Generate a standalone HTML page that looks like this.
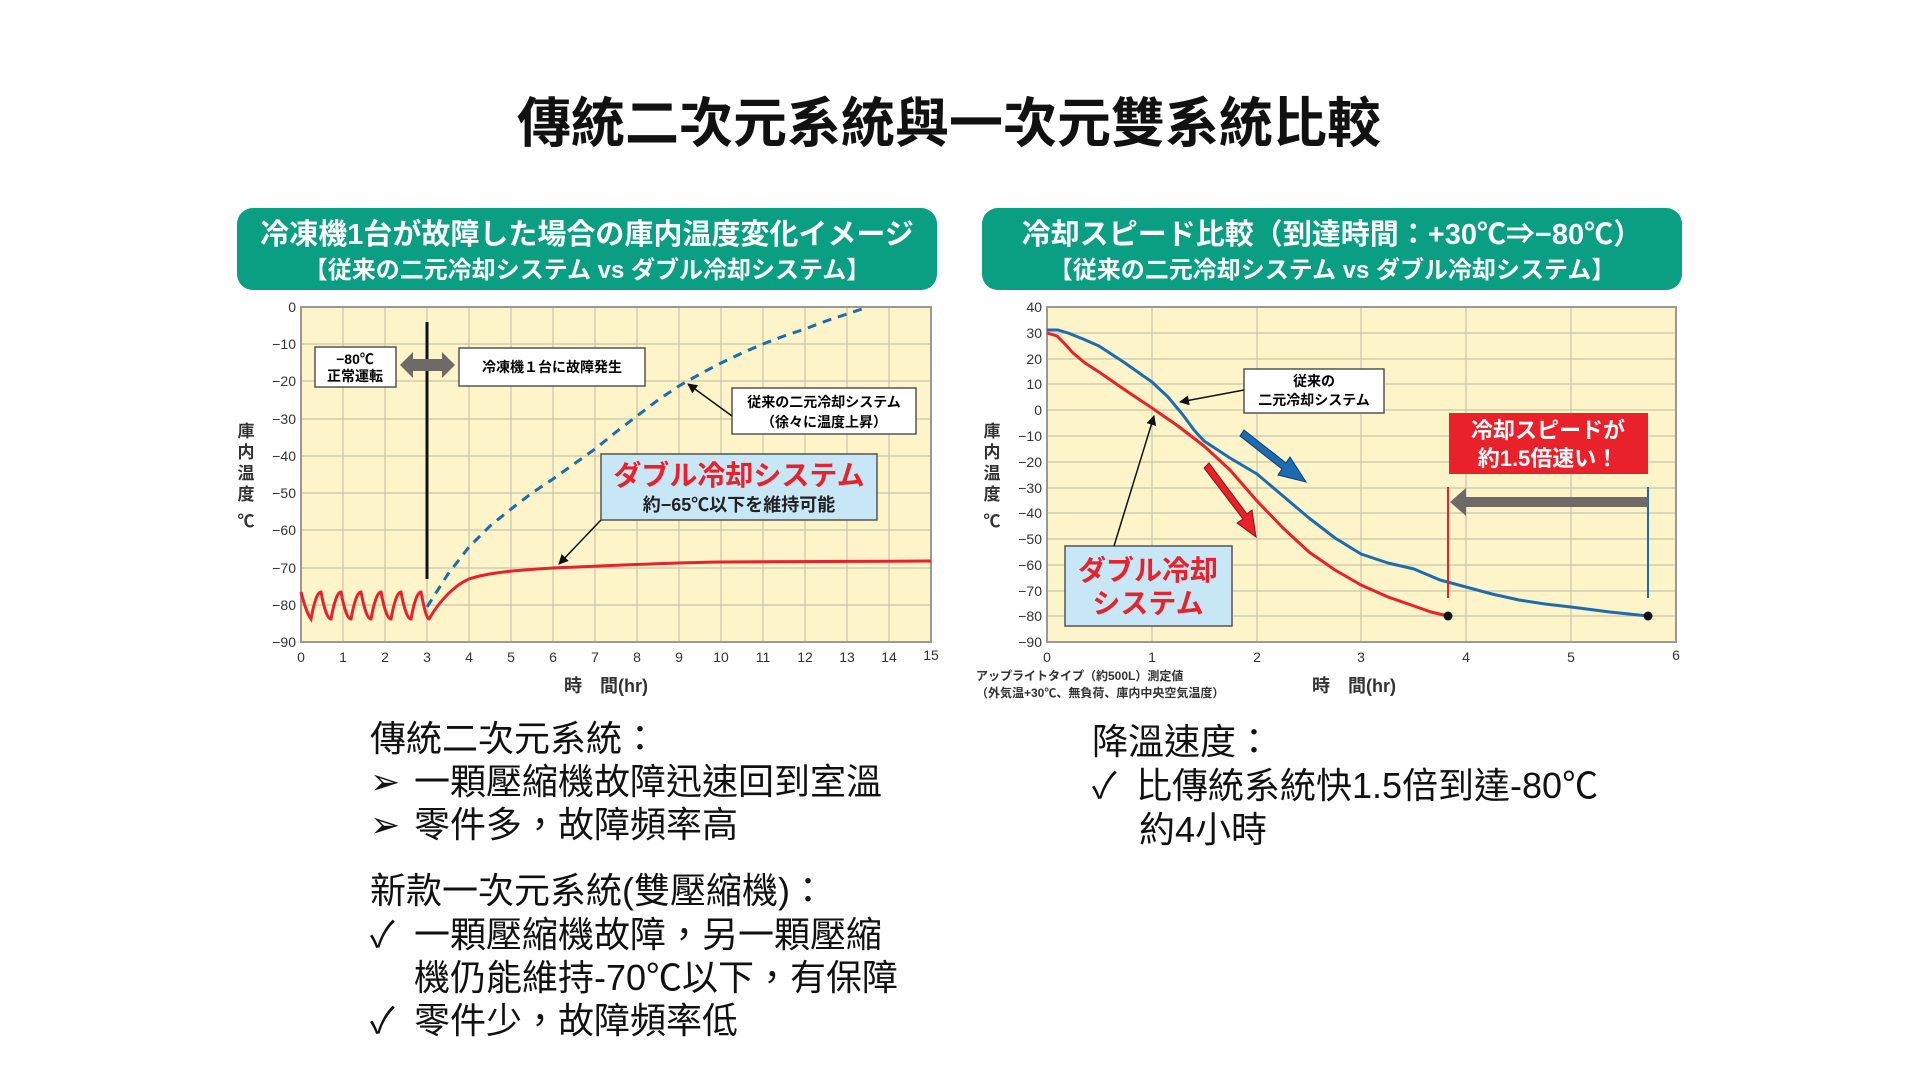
<!DOCTYPE html>
<html><head><meta charset="utf-8"><style>
html,body{margin:0;padding:0;background:#fff;width:1920px;height:1080px;overflow:hidden}
svg{display:block}
text{font-family:"Liberation Sans","Noto Sans CJK TC","Noto Sans CJK JP",sans-serif}
.b{font-family:"Liberation Sans","Noto Sans CJK JP",sans-serif;font-weight:bold}
.t{font-size:14px;fill:#333}
</style></head><body>
<svg width="1920" height="1080" viewBox="0 0 1920 1080" xmlns="http://www.w3.org/2000/svg">
<defs>
<marker id="ah" markerWidth="10" markerHeight="10" refX="9" refY="5" orient="auto" markerUnits="userSpaceOnUse"><path d="M0,0 L10,5 L0,10 Z" fill="#111"/></marker>
</defs>
<text x="949" y="142" text-anchor="middle" font-size="54" font-weight="bold" fill="#111" style="font-family:'Liberation Sans','Noto Sans CJK TC',sans-serif">傳統二次元系統與一次元雙系統比較</text>

<rect x="237" y="208" width="700" height="82" rx="16" fill="#0a9e82"/>
<text x="587" y="244" text-anchor="middle" font-size="29" fill="#fff" class="b">冷凍機1台が故障した場合の庫内温度変化イメージ</text>
<text x="587" y="278" text-anchor="middle" font-size="24" fill="#fff" class="b">【従来の二元冷却システム vs ダブル冷却システム】</text>
<rect x="982" y="208" width="700" height="82" rx="16" fill="#0a9e82"/>
<text x="1332" y="244" text-anchor="middle" font-size="29" fill="#fff" class="b">冷却スピード比較（到達時間：+30℃⇒−80℃）</text>
<text x="1332" y="278" text-anchor="middle" font-size="24" fill="#fff" class="b">【従来の二元冷却システム vs ダブル冷却システム】</text>

<!-- LEFT PLOT -->
<rect x="301" y="307" width="630" height="335" fill="#fdf5c9"/>
<g stroke="#c9c6a8" stroke-width="1.2">
<line x1="343" y1="307" x2="343" y2="642"/><line x1="385" y1="307" x2="385" y2="642"/><line x1="427" y1="307" x2="427" y2="642"/><line x1="469" y1="307" x2="469" y2="642"/><line x1="511" y1="307" x2="511" y2="642"/><line x1="553" y1="307" x2="553" y2="642"/><line x1="595" y1="307" x2="595" y2="642"/><line x1="637" y1="307" x2="637" y2="642"/><line x1="679" y1="307" x2="679" y2="642"/><line x1="721" y1="307" x2="721" y2="642"/><line x1="763" y1="307" x2="763" y2="642"/><line x1="805" y1="307" x2="805" y2="642"/><line x1="847" y1="307" x2="847" y2="642"/><line x1="889" y1="307" x2="889" y2="642"/>
<line x1="301" y1="344" x2="931" y2="344"/><line x1="301" y1="381" x2="931" y2="381"/><line x1="301" y1="419" x2="931" y2="419"/><line x1="301" y1="456" x2="931" y2="456"/><line x1="301" y1="493" x2="931" y2="493"/><line x1="301" y1="530" x2="931" y2="530"/><line x1="301" y1="568" x2="931" y2="568"/><line x1="301" y1="605" x2="931" y2="605"/>
</g>
<rect x="301" y="307" width="630" height="335" fill="none" stroke="#999" stroke-width="2"/>
<g class="t" text-anchor="end">
<text x="296" y="312">0</text><text x="296" y="349">−10</text><text x="296" y="386">−20</text><text x="296" y="424">−30</text><text x="296" y="461">−40</text><text x="296" y="498">−50</text><text x="296" y="535">−60</text><text x="296" y="573">−70</text><text x="296" y="610">−80</text><text x="296" y="647">−90</text>
</g>
<g class="t" text-anchor="middle">
<text x="301" y="662">0</text><text x="343" y="662">1</text><text x="385" y="662">2</text><text x="427" y="662">3</text><text x="469" y="662">4</text><text x="511" y="662">5</text><text x="553" y="662">6</text><text x="595" y="662">7</text><text x="637" y="662">8</text><text x="679" y="662">9</text><text x="721" y="662">10</text><text x="763" y="662">11</text><text x="805" y="662">12</text><text x="847" y="662">13</text><text x="931" y="660">15</text><text x="889" y="662">14</text>
</g>
<text x="606" y="692" text-anchor="middle" font-size="18" fill="#333" class="b">時　間(hr)</text>
<g font-size="17" fill="#333" class="b" text-anchor="middle">
<text x="246" y="437">庫</text><text x="246" y="458">内</text><text x="246" y="479">温</text><text x="246" y="500">度</text><text x="246" y="527">℃</text>
</g>
<path d="M301,592 Q306,612 311,619 Q316,592 321,592 Q326,619 331,619 Q336,592 341,592 Q346,619 351,619 Q356,592 361,592 Q366,619 371,619 Q376,592 381,592 Q386,619 391,619 Q396,592 401,592 Q406,619 411,619 Q416,592 421,592 Q426,619 429,619 C440,600 455,585 469,579 C490,572 520,570 553,568 C600,566 660,563 720,562 C800,561 880,561 931,561" fill="none" stroke="#e8212b" stroke-width="3"/>
<polyline points="427,607 448,574 469,547 490,526 511,509 532,493 553,479 574,464 595,449 616,432 637,416 658,400 679,386 700,374 721,363 742,353 763,344 784,336 805,329 826,321 847,314 868,307" fill="none" stroke="#1d6bb0" stroke-width="3" stroke-dasharray="9,7" stroke-linejoin="round"/>
<line x1="427" y1="322" x2="427" y2="579" stroke="#111" stroke-width="3"/>
<rect x="315" y="347" width="81" height="40" fill="#fff" stroke="#555" stroke-width="1.5"/>
<text x="355" y="364" text-anchor="middle" font-size="14" class="b">−80℃</text>
<text x="355" y="381" text-anchor="middle" font-size="14" class="b">正常運転</text>
<path d="M400,365 L413,352 L413,359 L442,359 L442,352 L455,365 L442,378 L442,371 L413,371 L413,378 Z" fill="#6f6a66"/>
<rect x="459" y="348" width="186" height="38" fill="#fff" stroke="#555" stroke-width="1.5"/>
<text x="552" y="372" text-anchor="middle" font-size="14" class="b">冷凍機１台に故障発生</text>
<rect x="732" y="388" width="184" height="46" fill="#fff" stroke="#555" stroke-width="1.5"/>
<text x="824" y="407" text-anchor="middle" font-size="14" class="b">従来の二元冷却システム</text>
<text x="824" y="427" text-anchor="middle" font-size="14" class="b">（徐々に温度上昇）</text>
<line x1="732" y1="416" x2="688" y2="384" stroke="#111" stroke-width="1.5" marker-end="url(#ah)"/>
<rect x="601" y="454" width="276" height="66" fill="#c7e6f6" stroke="#555" stroke-width="1.5"/>
<text x="739" y="485" text-anchor="middle" font-size="28" fill="#e8212b" class="b">ダブル冷却システム</text>
<text x="739" y="511" text-anchor="middle" font-size="18" fill="#222" class="b">約−65℃以下を維持可能</text>
<line x1="601" y1="520" x2="559" y2="564" stroke="#111" stroke-width="1.5" marker-end="url(#ah)"/>

<!-- RIGHT PLOT -->
<rect x="1047" y="307" width="629" height="335" fill="#fdf5c9"/>
<g stroke="#c9c6a8" stroke-width="1.2">
<line x1="1152" y1="307" x2="1152" y2="642"/><line x1="1257" y1="307" x2="1257" y2="642"/><line x1="1361" y1="307" x2="1361" y2="642"/><line x1="1466" y1="307" x2="1466" y2="642"/><line x1="1571" y1="307" x2="1571" y2="642"/>
<line x1="1047" y1="333" x2="1676" y2="333"/><line x1="1047" y1="359" x2="1676" y2="359"/><line x1="1047" y1="384" x2="1676" y2="384"/><line x1="1047" y1="410" x2="1676" y2="410"/><line x1="1047" y1="436" x2="1676" y2="436"/><line x1="1047" y1="462" x2="1676" y2="462"/><line x1="1047" y1="488" x2="1676" y2="488"/><line x1="1047" y1="513" x2="1676" y2="513"/><line x1="1047" y1="539" x2="1676" y2="539"/><line x1="1047" y1="565" x2="1676" y2="565"/><line x1="1047" y1="591" x2="1676" y2="591"/><line x1="1047" y1="616" x2="1676" y2="616"/>
</g>
<rect x="1047" y="307" width="629" height="335" fill="none" stroke="#999" stroke-width="2"/>
<g class="t" text-anchor="end">
<text x="1042" y="312">40</text><text x="1042" y="338">30</text><text x="1042" y="364">20</text><text x="1042" y="389">10</text><text x="1042" y="415">0</text><text x="1042" y="441">−10</text><text x="1042" y="467">−20</text><text x="1042" y="493">−30</text><text x="1042" y="518">−40</text><text x="1042" y="544">−50</text><text x="1042" y="570">−60</text><text x="1042" y="596">−70</text><text x="1042" y="621">−80</text><text x="1042" y="647">−90</text>
</g>
<g class="t" text-anchor="middle">
<text x="1047" y="662">0</text><text x="1152" y="662">1</text><text x="1257" y="662">2</text><text x="1361" y="662">3</text><text x="1466" y="662">4</text><text x="1571" y="662">5</text><text x="1676" y="660">6</text>
</g>
<text x="1354" y="692" text-anchor="middle" font-size="18" fill="#333" class="b">時　間(hr)</text>
<text x="976" y="680" font-size="12" fill="#333" class="b">アップライトタイプ（約500L）測定値</text>
<text x="976" y="697" font-size="12" fill="#333" class="b">（外気温+30℃、無負荷、庫内中央空気温度）</text>
<g font-size="17" fill="#333" class="b" text-anchor="middle">
<text x="992" y="437">庫</text><text x="992" y="458">内</text><text x="992" y="479">温</text><text x="992" y="500">度</text><text x="992" y="527">℃</text>
</g>
<polyline points="1047,333 1057,336 1064,343 1073,353 1085,363 1099,372 1125,390 1152,408 1178,426 1204,446 1230,470 1257,501 1283,528 1309,552 1335,570 1361,585 1388,597 1414,606 1431,612 1448,616" fill="none" stroke="#e8212b" stroke-width="3" stroke-linejoin="round"/>
<polyline points="1047,330 1058,330 1068,333 1083,339 1099,346 1125,363 1152,382 1168,397 1183,415 1194,430 1204,441 1230,458 1257,474 1283,496 1309,518 1335,538 1361,554 1388,563 1414,569 1440,580 1466,587 1492,594 1519,600 1545,604 1571,607 1610,612 1648,616" fill="none" stroke="#1d6bb0" stroke-width="3" stroke-linejoin="round"/>
<circle cx="1448" cy="616" r="4.5" fill="#111"/>
<circle cx="1648" cy="616" r="4.5" fill="#111"/>
<line x1="1448" y1="487" x2="1448" y2="598" stroke="#e8212b" stroke-width="2"/>
<line x1="1648" y1="487" x2="1648" y2="598" stroke="#1d6bb0" stroke-width="2"/>
<path d="M1648,497 L1466,497 L1466,488 L1450,502 L1466,516 L1466,507 L1648,507 Z" fill="#6f6a66"/>
<rect x="1244" y="369" width="140" height="44" fill="#fff" stroke="#555" stroke-width="1.5"/>
<text x="1314" y="386" text-anchor="middle" font-size="14" class="b">従来の</text>
<text x="1314" y="405" text-anchor="middle" font-size="14" class="b">二元冷却システム</text>
<line x1="1244" y1="390" x2="1180" y2="402" stroke="#111" stroke-width="1.5" marker-end="url(#ah)"/>
<rect x="1449" y="413" width="199" height="61" fill="#e8212b"/>
<text x="1548" y="438" text-anchor="middle" font-size="22" fill="#fff" class="b">冷却スピードが</text>
<text x="1548" y="466" text-anchor="middle" font-size="22" fill="#fff" class="b">約1.5倍速い！</text>
<rect x="1065" y="546" width="167" height="80" fill="#c7e6f6" stroke="#555" stroke-width="1.5"/>
<text x="1148" y="580" text-anchor="middle" font-size="28" fill="#e8212b" class="b">ダブル冷却</text>
<text x="1148" y="613" text-anchor="middle" font-size="28" fill="#e8212b" class="b">システム</text>
<line x1="1114" y1="546" x2="1154" y2="416" stroke="#111" stroke-width="1.5" marker-end="url(#ah)"/>
<path d="M1244,430 L1286,463 L1290,457 L1306,482 L1278,475 L1282,469 L1240,436 Z" fill="#1d6bb0" stroke="#0b3f70" stroke-width="1"/>
<path d="M1204,468 L1243,519 L1237,523 L1256,537 L1252,510 L1247,514 L1209,463 Z" fill="#e8212b" stroke="#8a1015" stroke-width="1"/>

<g font-size="36" fill="#111" style="font-family:'Liberation Sans','Noto Sans CJK TC',sans-serif">
<text x="370" y="751">傳統二次元系統：</text>
<text x="370" y="794">➢</text><text x="414" y="794">一顆壓縮機故障迅速回到室溫</text>
<text x="370" y="837">➢</text><text x="414" y="837">零件多，故障頻率高</text>
<text x="370" y="903">新款一次元系統(雙壓縮機)：</text>
<text x="370" y="947">✓</text><text x="414" y="947">一顆壓縮機故障，另一顆壓縮</text>
<text x="414" y="990">機仍能維持-70℃以下，有保障</text>
<text x="370" y="1033">✓</text><text x="414" y="1033">零件少，故障頻率低</text>
<text x="1092" y="754">降溫速度：</text>
<text x="1092" y="798">✓</text><text x="1136" y="798">比傳統系統快1.5倍到達-80℃</text>
<text x="1139" y="842">約4小時</text>
</g>
</svg>
</body></html>
